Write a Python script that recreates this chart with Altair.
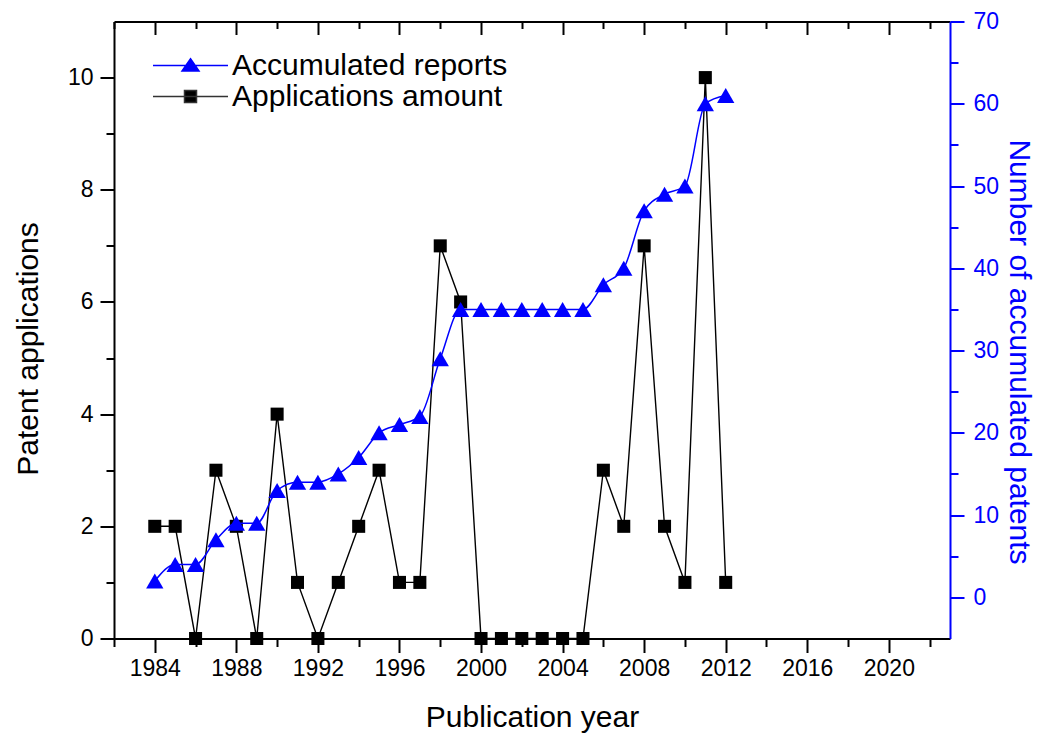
import altair as alt
import pandas as pd

# ---- data ----
years = list(range(1984, 2013))
applications = [2, 2, 0, 3, 2, 0, 4, 1, 0, 1, 2, 3, 1, 1, 7, 6,
                0, 0, 0, 0, 0, 0, 3, 2, 7, 2, 1, 10, 1]
accumulated = [2, 4, 4, 7, 9, 9, 13, 14, 14, 15, 17, 20, 21, 22, 29, 35,
               35, 35, 35, 35, 35, 35, 38, 40, 47, 49, 50, 60, 61]

series_names = ["Accumulated reports", "Applications amount"]
x_major = [1984, 1988, 1992, 1996, 2000, 2004, 2008, 2012, 2016, 2020]
x_minor = [1982, 1986, 1990, 1994, 1998, 2002, 2006, 2010, 2014, 2018, 2022]
left_major = [0, 2, 4, 6, 8, 10]
left_minor = [1, 3, 5, 7, 9]
right_major = [0, 10, 20, 30, 40, 50, 60, 70]
right_minor = [5, 15, 25, 35, 45, 55, 65]

W, H = 836, 617
FONT = "Liberation Sans"
BLUE = "#0000ff"
BLACK = "#000000"
TICK_FS = 23
TITLE_FS = 30

df = pd.DataFrame({"year": years, "apps": applications, "acc": accumulated})
base = alt.Chart(df)

xs = alt.Scale(domain=[1982, 2023], nice=False, zero=False)
yl = alt.Scale(domain=[0, 11], nice=False, zero=False)
yr = alt.Scale(domain=[-5, 70], nice=False, zero=False)

common = dict(grid=False, labelFont=FONT, titleFont=FONT, titleFontWeight="normal")

x_bottom = alt.Axis(orient="bottom", values=x_major, format="d", tickSize=14, tickWidth=2,
                    domainWidth=2, domainColor=BLACK, tickColor=BLACK, labelColor=BLACK,
                    labelFontSize=TICK_FS, labelPadding=5, title="Publication year",
                    titleFontSize=TITLE_FS, titleColor=BLACK, titlePadding=22, **common)
x_bottom_minor = alt.Axis(orient="bottom", values=x_minor, tickSize=8, tickWidth=2,
                          tickColor=BLACK, domain=False, labels=False, title=None, **common)
x_top = alt.Axis(orient="bottom", offset=-H, values=x_major, tickSize=13, tickWidth=2,
                 domainWidth=2, domainColor=BLACK, tickColor=BLACK, labels=False,
                 title=None, **common)
x_top_minor = alt.Axis(orient="bottom", offset=-H, values=x_minor, tickSize=7, tickWidth=2,
                       tickColor=BLACK, domain=False, labels=False, title=None, **common)

y_left = alt.Axis(orient="left", values=left_major, tickSize=14, tickWidth=2, domainWidth=2,
                  domainColor=BLACK, tickColor=BLACK, labelColor=BLACK, labelFontSize=TICK_FS,
                  labelPadding=7, title="Patent applications", titleFontSize=TITLE_FS,
                  titleColor=BLACK, titlePadding=24, titleY=327, **common)
y_left_minor = alt.Axis(orient="left", values=left_minor, tickSize=8, tickWidth=2,
                        tickColor=BLACK, domain=False, labels=False, title=None, **common)
y_right = alt.Axis(orient="right", values=right_major, tickSize=14, tickWidth=2, domainWidth=2,
                   domainColor=BLUE, tickColor=BLUE, labelColor=BLUE, labelFontSize=TICK_FS,
                   labelPadding=9, title="Number of accumulated patents", titleFontSize=TITLE_FS,
                   titleColor=BLUE, titlePadding=5, titleY=330, **common)
y_right_minor = alt.Axis(orient="right", values=right_minor, tickSize=8, tickWidth=2,
                         tickColor=BLUE, domain=False, labels=False, title=None, **common)

# applications amount (left axis)
apps_enc = base.encode(
    x=alt.X("year:Q", scale=xs, axis=x_bottom),
    y=alt.Y("apps:Q", scale=yl, axis=y_left),
)
apps_layer = alt.layer(
    apps_enc.mark_line(color=BLACK, strokeWidth=1.4),
    apps_enc.mark_point(shape="square", filled=True, size=170, color=BLACK, opacity=1),
)

# legend symbols: a line with its marker (symbol size 400 -> unit = 10 px)
tri_path = "M-1,0H6.5M2.75,-0.68L3.6,0.55L1.9,0.55Z"
sq_path = "M-1,0H6.5M2.15,-0.6H3.35V0.6H2.15Z"
leg = alt.Legend(orient="none", legendX=34, legendY=29, title=None, symbolSize=400,
                 symbolStrokeWidth=1.5, symbolOpacity=1, labelFont=FONT,
                 labelFontSize=TITLE_FS, labelColor=BLACK, labelOffset=54, labelLimit=0,
                 rowPadding=1, padding=0)

apps_minor = base.mark_point(opacity=0, filled=True).transform_calculate(
    series="'Applications amount'"
).encode(
    x=alt.X("year:Q", scale=xs, axis=x_bottom_minor),
    y=alt.Y("apps:Q", scale=yl, axis=y_left_minor),
    color=alt.Color("series:N",
                    scale=alt.Scale(domain=series_names, range=[BLUE, BLACK]), legend=leg),
    stroke=alt.Stroke("series:N",
                      scale=alt.Scale(domain=series_names, range=[BLUE, "#333333"]), legend=leg),
    shape=alt.Shape("series:N",
                    scale=alt.Scale(domain=series_names, range=[tri_path, sq_path]), legend=leg),
)

# accumulated reports (right axis)
acc_enc = base.encode(
    x=alt.X("year:Q", scale=xs, axis=x_top),
    y=alt.Y("acc:Q", scale=yr, axis=y_right),
)
acc_layer = alt.layer(
    acc_enc.mark_line(color=BLUE, strokeWidth=1.5, interpolate="monotone"),
    acc_enc.mark_point(shape="triangle-up", filled=True, size=300, color=BLUE, opacity=1),
)
acc_minor = base.mark_point(opacity=0).encode(
    x=alt.X("year:Q", scale=xs, axis=x_top_minor),
    y=alt.Y("acc:Q", scale=yr, axis=y_right_minor),
)

chart = alt.layer(apps_layer, apps_minor, acc_layer, acc_minor).resolve_scale(
    x="independent", y="independent"
).properties(
    width=W, height=H,
    padding={"left": 5, "top": 2.5, "right": 4, "bottom": 0},
).configure_view(stroke=None).configure(background="white")

chart.save("out.html", embed_options={"renderer": "svg", "actions": False})
